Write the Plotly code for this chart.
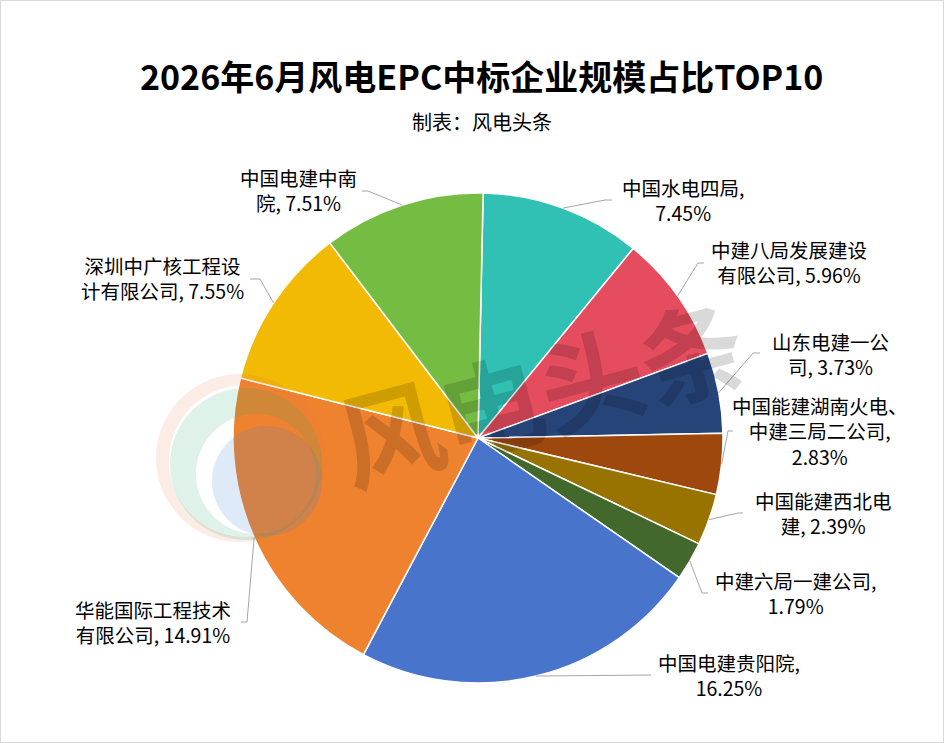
import numpy as np
import plotly.graph_objects as go

# ---------------- data ----------------
names = ["中国水电四局", "中建八局发展建设有限公司", "山东电建一公司",
         "中国能建湖南火电、中建三局二公司", "中国能建西北电建", "中建六局一建公司",
         "中国电建贵阳院", "华能国际工程技术有限公司", "深圳中广核工程设计有限公司",
         "中国电建中南院"]
shares = [7.45, 5.96, 3.73, 2.83, 2.39, 1.79, 16.25, 14.91, 7.55, 7.51]
label_tpl = ["中国水电四局,<br>{p}", "中建八局发展建设<br>有限公司, {p}", "山东电建一公<br>司, {p}",
             "中国能建湖南火电、<br>中建三局二公司,<br>{p}", "中国能建西北电<br>建, {p}",
             "中建六局一建公司,<br>{p}", "中国电建贵阳院,<br>{p}", "华能国际工程技术<br>有限公司, {p}",
             "深圳中广核工程设<br>计有限公司, {p}", "中国电建中南<br>院, {p}"]
title_text = "2026年6月风电EPC中标企业规模占比TOP10"
subtitle_text = "制表：风电头条"
watermark_text = "风电头条"

# ---------------- styles / layout ----------------
colors = ["#30C0B4", "#E54C5E", "#264478", "#9E480E", "#997300", "#43682B",
          "#4874CB", "#EE822F", "#F2BA02", "#75BD42"]
W, H = 944, 743
CX, CY, R = 478, 438, 245
ROT = 1.2
FONT = "Noto Sans CJK SC"
# label block centres, leader elbows and leader tails (pixels)
label_pos = [(683, 200), (789, 262), (830, 354), (820, 431), (823, 513),
             (795, 593), (729, 675), (153, 622), (162, 278), (298, 190)]
elbow = [(605, 200), (698, 263), (753, 353), (728, 431), (738, 513),
         (702, 593), (651, 675), (247, 622), (260, 279), (368, 191)]
tail = [(612, 200), (704, 263), (760, 353), (733, 431), (743, 513),
        (708, 593), None, (241, 622), (250, 279), (362, 191)]


def px(x):
    return x / W


def py(y):
    return 1 - y / H


fig = go.Figure(go.Pie(
    labels=names, values=shares, sort=False, direction="clockwise", rotation=ROT,
    marker=dict(colors=colors, line=dict(color="white", width=1.5)),
    textinfo="none", hoverinfo="label+percent", showlegend=False,
    domain=dict(x=[px(CX - R), px(CX + R)], y=[py(CY + R), py(CY - R)]),
))

# slice mid-angles from the data -> leader start points on the rim
vals = np.array(shares)
cum = np.cumsum(vals)
mid = np.radians(ROT + 360 * (cum - vals / 2) / vals.sum())
shapes = []
annotations = []
for i, a in enumerate(mid):
    sx, sy = CX + R * np.sin(a), CY - R * np.cos(a)
    ex, ey = elbow[i]
    path = f"M{px(sx)},{py(sy)} L{px(ex)},{py(ey)}"
    if tail[i] is not None:
        tx, ty = tail[i]
        path += f" L{px(tx)},{py(ty)}"
    shapes.append(dict(type="path", xref="paper", yref="paper", path=path,
                       line=dict(color="#A6A6A6", width=1)))
    lx, ly = label_pos[i]
    annotations.append(dict(x=px(lx), y=py(ly), xref="paper", yref="paper",
                            text=label_tpl[i].format(p=f"{shares[i]:.2f}%"),
                            showarrow=False, xanchor="center", yanchor="middle",
                            align="center", font=dict(family=FONT, size=19.5, color="#000")))


# faint logo rings (decoration)
def ring(c_out, r_out, c_in=None, r_in=None, n=90):
    t = np.linspace(0, 2 * np.pi, n, endpoint=False)
    pts = [(c_out[0] + r_out * np.cos(a), c_out[1] + r_out * np.sin(a)) for a in t]
    p = "M" + " L".join(f"{px(x)},{py(y)}" for x, y in pts) + " Z"
    if c_in is not None:
        pts = [(c_in[0] + r_in * np.cos(a), c_in[1] - r_in * np.sin(a)) for a in t]
        p += " M" + " L".join(f"{px(x)},{py(y)}" for x, y in pts) + " Z"
    return p


for p, col in [
    (ring((240, 458), 84, (245, 461), 76), "rgba(235,120,80,0.14)"),
    (ring((246, 464), 76, (256, 474), 60), "rgba(40,170,110,0.15)"),
    (ring((267, 481), 55), "rgba(60,130,210,0.17)"),
]:
    shapes.append(dict(type="path", xref="paper", yref="paper", path=p,
                       fillcolor=col, line=dict(width=0), layer="above"))

# border
shapes.append(dict(type="rect", xref="paper", yref="paper", x0=px(0.5), x1=px(W - 0.5),
                   y0=py(H - 0.5), y1=py(0.5), line=dict(color="#D9D9D9", width=1)))

annotations.append(dict(x=px(540), y=py(388), xref="paper", yref="paper", text=watermark_text,
                        showarrow=False, textangle=-15, xanchor="center", yanchor="middle",
                        font=dict(family=FONT, size=104, color="rgba(0,0,0,0.15)", weight="bold")))
annotations.append(dict(x=px(481), y=py(75), xref="paper", yref="paper", text=f"<b>{title_text}</b>",
                        showarrow=False, xanchor="center", yanchor="middle",
                        font=dict(family=FONT, size=34, color="#000")))
annotations.append(dict(x=px(482), y=py(122), xref="paper", yref="paper", text=subtitle_text,
                        showarrow=False, xanchor="center", yanchor="middle",
                        font=dict(family=FONT, size=20, color="#000")))

fig.update_layout(width=W, height=H, margin=dict(l=0, r=0, t=0, b=0),
                  paper_bgcolor="white", plot_bgcolor="white",
                  shapes=shapes, annotations=annotations)
fig.write_html("out.html")
